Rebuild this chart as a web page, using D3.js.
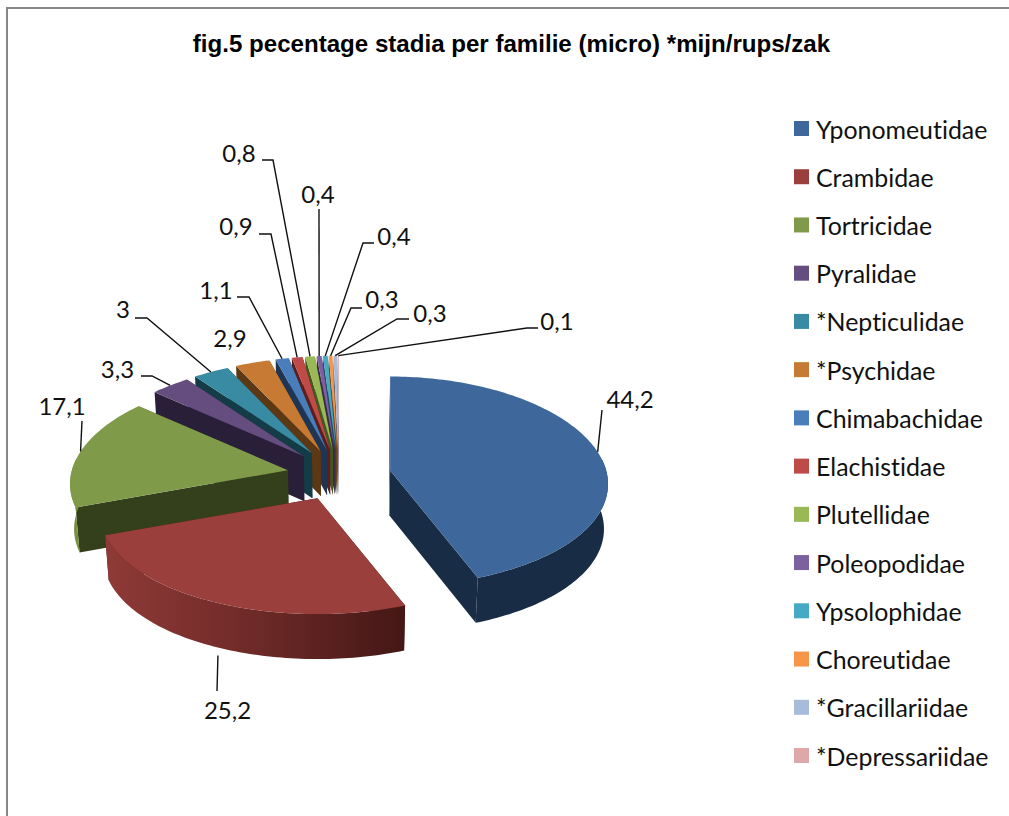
<!DOCTYPE html>
<html><head><meta charset="utf-8">
<script src="https://cdnjs.cloudflare.com/ajax/libs/d3/7.8.5/d3.min.js"></script>
<style>html,body{margin:0;padding:0;background:#fff}svg{display:block}text{font-variant-ligatures:none}</style>
</head><body><svg id="c" width="1009" height="816"></svg>
<script>
const chartTitle = "fig.5 pecentage stadia per familie (micro) *mijn/rups/zak";
const categories = ["Yponomeutidae","Crambidae","Tortricidae","Pyralidae","*Nepticulidae","*Psychidae","Chimabachidae","Elachistidae","Plutellidae","Poleopodidae","Ypsolophidae","Choreutidae","*Gracillariidae","*Depressariidae"];
const values = [44.2,25.2,17.1,3.3,3,2.9,1.1,0.9,0.8,0.4,0.4,0.3,0.3,0.1];
const valueLabels = ["44,2","25,2","17,1","3,3","3","2,9","1,1","0,9","0,8","0,4","0,4","0,3","0,3","0,1"];

// styles
const topColors = ["#3E689B","#9A3F3C","#7F9B49","#664D80","#398AA3","#C67A33","#4A7EBB","#BE4B48","#98B954","#7D60A0","#46AAC5","#F79646","#A8BBDA","#DDA8A7"];
const sideColors = ["#182C45","#451816","#343F1C","#2A1F38","#143C47","#5C3815","#1E3554","#5A1F1D","#46561F","#3A2B4C","#1C4C5A","#7A4415","#55617A","#6B4A4A"];
const wallColors = ["#182C45","url(#redWall)","#75903F","#4A3860","#2A6A80","#8A5520","#2E5585","#7A2F2D","#6A8535","#54406F","#30758A","#A8652A","#7585A0","#9A7575"];

// leader layout: text centre, then elbow points; last point of each leader comes from the pie geometry
const labelLayout = [
 {tx:630,ty:398,pts:[[602,410]],dy:0,dx:0},
 {tx:227.5,ty:709,pts:[[217,691]],dy:53,dx:2},
 {tx:62,ty:405,pts:[[82,421]],dy:0,dx:0},
 {tx:117.5,ty:368,pts:[[141,376],[152,376]],dy:0,dx:0},
 {tx:123,ty:308,pts:[[135,318],[147,318]],dy:0,dx:0},
 {tx:230,ty:337,pts:null,dy:0,dx:0},
 {tx:216,ty:289,pts:[[237,297],[249,297]],dy:0,dx:0},
 {tx:236,ty:225,pts:[[259,234],[271,234]],dy:0,dx:0},
 {tx:239,ty:152,pts:[[262,160],[273,160]],dy:0,dx:0},
 {tx:318,ty:193,pts:[[319,209]],dy:0,dx:0},
 {tx:394,ty:235,pts:[[374,243],[363,243]],dy:0,dx:0},
 {tx:382,ty:298,pts:[[362,308],[351,308]],dy:0,dx:0},
 {tx:430,ty:312,pts:[[409,319],[397,319]],dy:0,dx:0},
 {tx:557,ty:320,pts:[[538,328],[527,328]],dy:0,dx:0}
];

const W = 1009, H = 816;
const svg = d3.select("#c");
const defs = svg.append("defs");
const grad = defs.append("linearGradient").attr("id","redWall").attr("gradientUnits","userSpaceOnUse")
  .attr("x1",105).attr("x2",400).attr("y1",0).attr("y2",0);
grad.append("stop").attr("offset",0).attr("stop-color","#8F3A37");
grad.append("stop").attr("offset",0.5).attr("stop-color","#6E2A28");
grad.append("stop").attr("offset",1).attr("stop-color","#451816");

// frame
svg.append("path").attr("d",`M7,${H}V8H${W}`).attr("fill","none").attr("stroke","#868686").attr("stroke-width",2);

// title
svg.append("text").attr("x",511.5).attr("y",43).attr("text-anchor","middle").attr("dominant-baseline","central")
  .attr("font-family","'Liberation Sans',Arial,sans-serif").attr("font-weight","bold").attr("font-size",24.1).attr("fill","#000").text(chartTitle);

// pie geometry
const arcs = d3.pie().sort(null)(values);
const C0 = {x:339,y:475}, EXPL = 52, TILT = 0.49, RX = 216, RY = 103.7, PERSP_Y = 0.105, PERSP_X = 0.13, DEPTH = 45, VX = 340, VS = 0.985;
function center(a){ const m=(a.startAngle+a.endAngle)/2; return {x:C0.x+EXPL*Math.sin(m), y:C0.y-EXPL*TILT*Math.cos(m)}; }
function proj(c,t){ const u=Math.sin(t), v=-Math.cos(t); return [c.x+RX*u/(1-PERSP_X*v), c.y+RY*v/(1-PERSP_Y*v)]; }
function low(pt){ return [VX+(pt[0]-VX)*VS, pt[1]+DEPTH]; }
function samples(a0,a1){ const n=Math.max(2,Math.ceil((a1-a0)/0.02)); return d3.range(n+1).map(i=>a0+(a1-a0)*i/n); }
const poly = d3.line().curve(d3.curveLinear);
const g = svg.append("g");

// back to front: smallest slices near 12 o'clock first, blue last
d3.range(arcs.length).reverse().forEach(i=>{
  const a=arcs[i], c=center(a), k=[c.x,c.y];
  const s=proj(c,a.startAngle), e=proj(c,a.endAngle);
  const side=sideColors[i];
  g.append("path").attr("d",poly([k,e,low(e),low(k)])+"Z").attr("fill",side);
  g.append("path").attr("d",poly([k,s,low(s),low(k)])+"Z").attr("fill",side);
  const ts=samples(a.startAngle,a.endAngle).filter(t=>-Math.cos(t)>-0.12);
  if(ts.length>1){
    const up=ts.map(t=>proj(c,t)), dn=up.map(low).reverse();
    g.append("path").attr("d",poly(up.concat(dn))+"Z").attr("fill",wallColors[i]);
  }
  const rim=samples(a.startAngle,a.endAngle).map(t=>proj(c,t));
  g.append("path").attr("d",poly([k].concat(rim))+"Z").attr("fill",topColors[i]);
});

// leaders and labels
const labelFont = "Lato,Carlito,Calibri,sans-serif";
arcs.forEach((a,i)=>{
  const L=labelLayout[i];
  if(L.pts){
    const m=(a.startAngle+a.endAngle)/2, q=proj(center(a),m);
    svg.append("path").attr("d",poly(L.pts.concat([[q[0]+L.dx,q[1]+L.dy]])))
      .attr("fill","none").attr("stroke","#111").attr("stroke-width",1.4);
  }
  svg.append("text").attr("x",L.tx).attr("y",L.ty).attr("text-anchor","middle").attr("dominant-baseline","central")
    .attr("font-family",labelFont).attr("font-size",24).attr("fill","#111").text(valueLabels[i]);
});

// legend
const ly = d3.scalePoint().domain(categories).range([128.5,755.5]);
const leg = svg.append("g").selectAll("g").data(categories).join("g").attr("transform",d=>`translate(794,${ly(d)})`);
leg.append("rect").attr("x",0).attr("y",-7.5).attr("width",15).attr("height",15).attr("fill",(d,i)=>topColors[i]);
leg.append("text").attr("x",22).attr("y",0).attr("dominant-baseline","central").attr("font-family",labelFont)
  .attr("font-size",24.9).attr("fill","#111").text(d=>d);
</script></body></html>
